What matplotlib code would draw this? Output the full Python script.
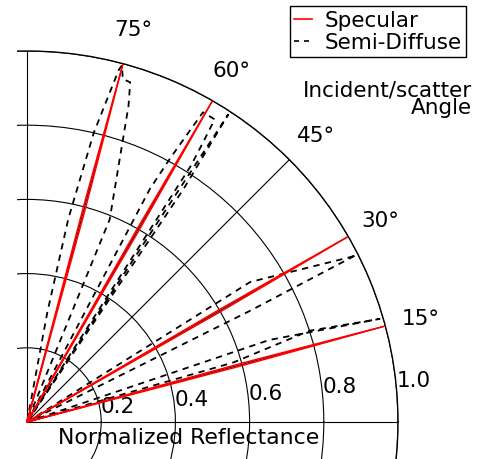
import numpy as np
import matplotlib
matplotlib.use("Agg")
import matplotlib.pyplot as plt
from matplotlib.lines import Line2D
from matplotlib.patches import Rectangle

# ---- data ----
theta_ticks = [0, 15, 30, 45, 60, 75, 90]
theta_labels = ["", "15°", "30°", "45°", "60°", "75°", ""]
r_ticks = [0.2, 0.4, 0.6, 0.8, 1.0]
r_labels = ["0.2", "0.4", "0.6", "0.8", "1.0"]

# specular lobes (theta in deg, r)
spec_15_t = [14.3, 14.7, 15.0, 15.3, 15.7]
spec_15_r = [0.0, 0.6, 1.0, 0.6, 0.0]
spec_30_t = [29.3, 29.7, 30.0, 30.3, 30.7]
spec_30_r = [0.0, 0.6, 1.0, 0.6, 0.0]
spec_60_t = [59.3, 59.7, 60.0, 60.3, 60.7]
spec_60_r = [0.0, 0.6, 1.0, 0.6, 0.0]
spec_75_t = [74.3, 74.7, 75.0, 75.3, 75.7]
spec_75_r = [0.0, 0.6, 1.0, 0.6, 0.0]

# semi-diffuse lobes (theta in deg, r)
diff_75_t = [80.0, 79.5, 78.5, 77.0, 75.4, 75.1, 74.4, 73.1, 72.2, 67.8, 66.0]
diff_75_r = [0.0, 0.30, 0.56, 0.80, 0.98, 0.995, 0.96, 0.957, 0.895, 0.59, 0.0]
diff_60_t = [63.5, 62.2, 61.5, 60.4, 58.2, 57.8, 57.4, 56.0]
diff_60_r = [0.0, 0.71, 0.81, 0.96, 0.96, 0.89, 0.82, 0.0]
diff_60b_t = [58.0, 56.1, 56.8, 57.0]
diff_60b_r = [0.0, 0.756, 0.99, 0.0]
diff_30_t = [33.5, 32.1, 27.0, 26.9, 26.5, 25.0]
diff_30_r = [0.0, 0.71, 0.98, 0.996, 0.67, 0.0]
diff_15_t = [20.0, 18.7, 16.3, 17.9, 16.1, 15.5]
diff_15_r = [0.0, 0.69, 0.99, 0.80, 0.58, 0.0]

# ---- figure ----
W, H = 478, 460
fig = plt.figure(figsize=(W / 100, H / 100), dpi=100)
cx, cy, R = 27, 460 - 423, 371
ax = fig.add_axes([(cx - R) / W, (cy - R) / H, 2 * R / W, 2 * R / H], projection="polar")
ax.set_ylim(0, 1.0)

ax.set_thetagrids(theta_ticks, [""] * len(theta_ticks))
for t, lab in zip(theta_ticks, theta_labels):
    if lab:
        ax.text(np.deg2rad(t - 0.2), 1.097, lab, ha="center", va="center",
                fontsize=15.5, clip_on=False)
ax.set_rgrids(r_ticks, r_labels, angle=5, fontsize=15.5)
ax.grid(True, color="black", linewidth=0.8, linestyle="-")
ax.spines["polar"].set_linewidth(1.0)

def spec(t, r):
    ax.plot(np.deg2rad(t), r, color="red", lw=1.1, zorder=3)

def diff(t, r):
    ax.plot(np.deg2rad(t), r, color="black", lw=1.3, ls=(0, (3.5, 3)), zorder=3)

for t, r in [(diff_15_t, diff_15_r), (diff_30_t, diff_30_r), (diff_60_t, diff_60_r),
             (diff_60b_t, diff_60b_r), (diff_75_t, diff_75_r)]:
    diff(t, r)
for t, r in [(spec_15_t, spec_15_r), (spec_30_t, spec_30_r),
             (spec_60_t, spec_60_r), (spec_75_t, spec_75_r)]:
    spec(t, r)

# mask left strip
fig.add_artist(Rectangle((0, 0), 17 / W, 1, transform=fig.transFigure,
                         facecolor="white", edgecolor="none", zorder=10))

handles = [Line2D([], [], color="red", lw=1.2),
           Line2D([], [], color="black", lw=1.2, ls=(0, (3, 3)))]
fig.legend(handles, ["Specular", "Semi-Diffuse"], loc="upper right",
           bbox_to_anchor=(466 / W, 1 - 7 / H), fontsize=15.5, handlelength=0.8,
           fancybox=False, edgecolor="black", framealpha=1, borderaxespad=0,
           borderpad=0.2, labelspacing=0.1, handletextpad=0.6)

fig.text(472 / W, 1 - 80 / H, "Incident/scatter\nAngle", ha="right", va="top",
         fontsize=15.5, multialignment="right", linespacing=0.85)
fig.text(189 / W, 1 - 438 / H, "Normalized Reflectance", ha="center", va="center",
         fontsize=15.8)

fig.savefig("out.png", dpi=100)
